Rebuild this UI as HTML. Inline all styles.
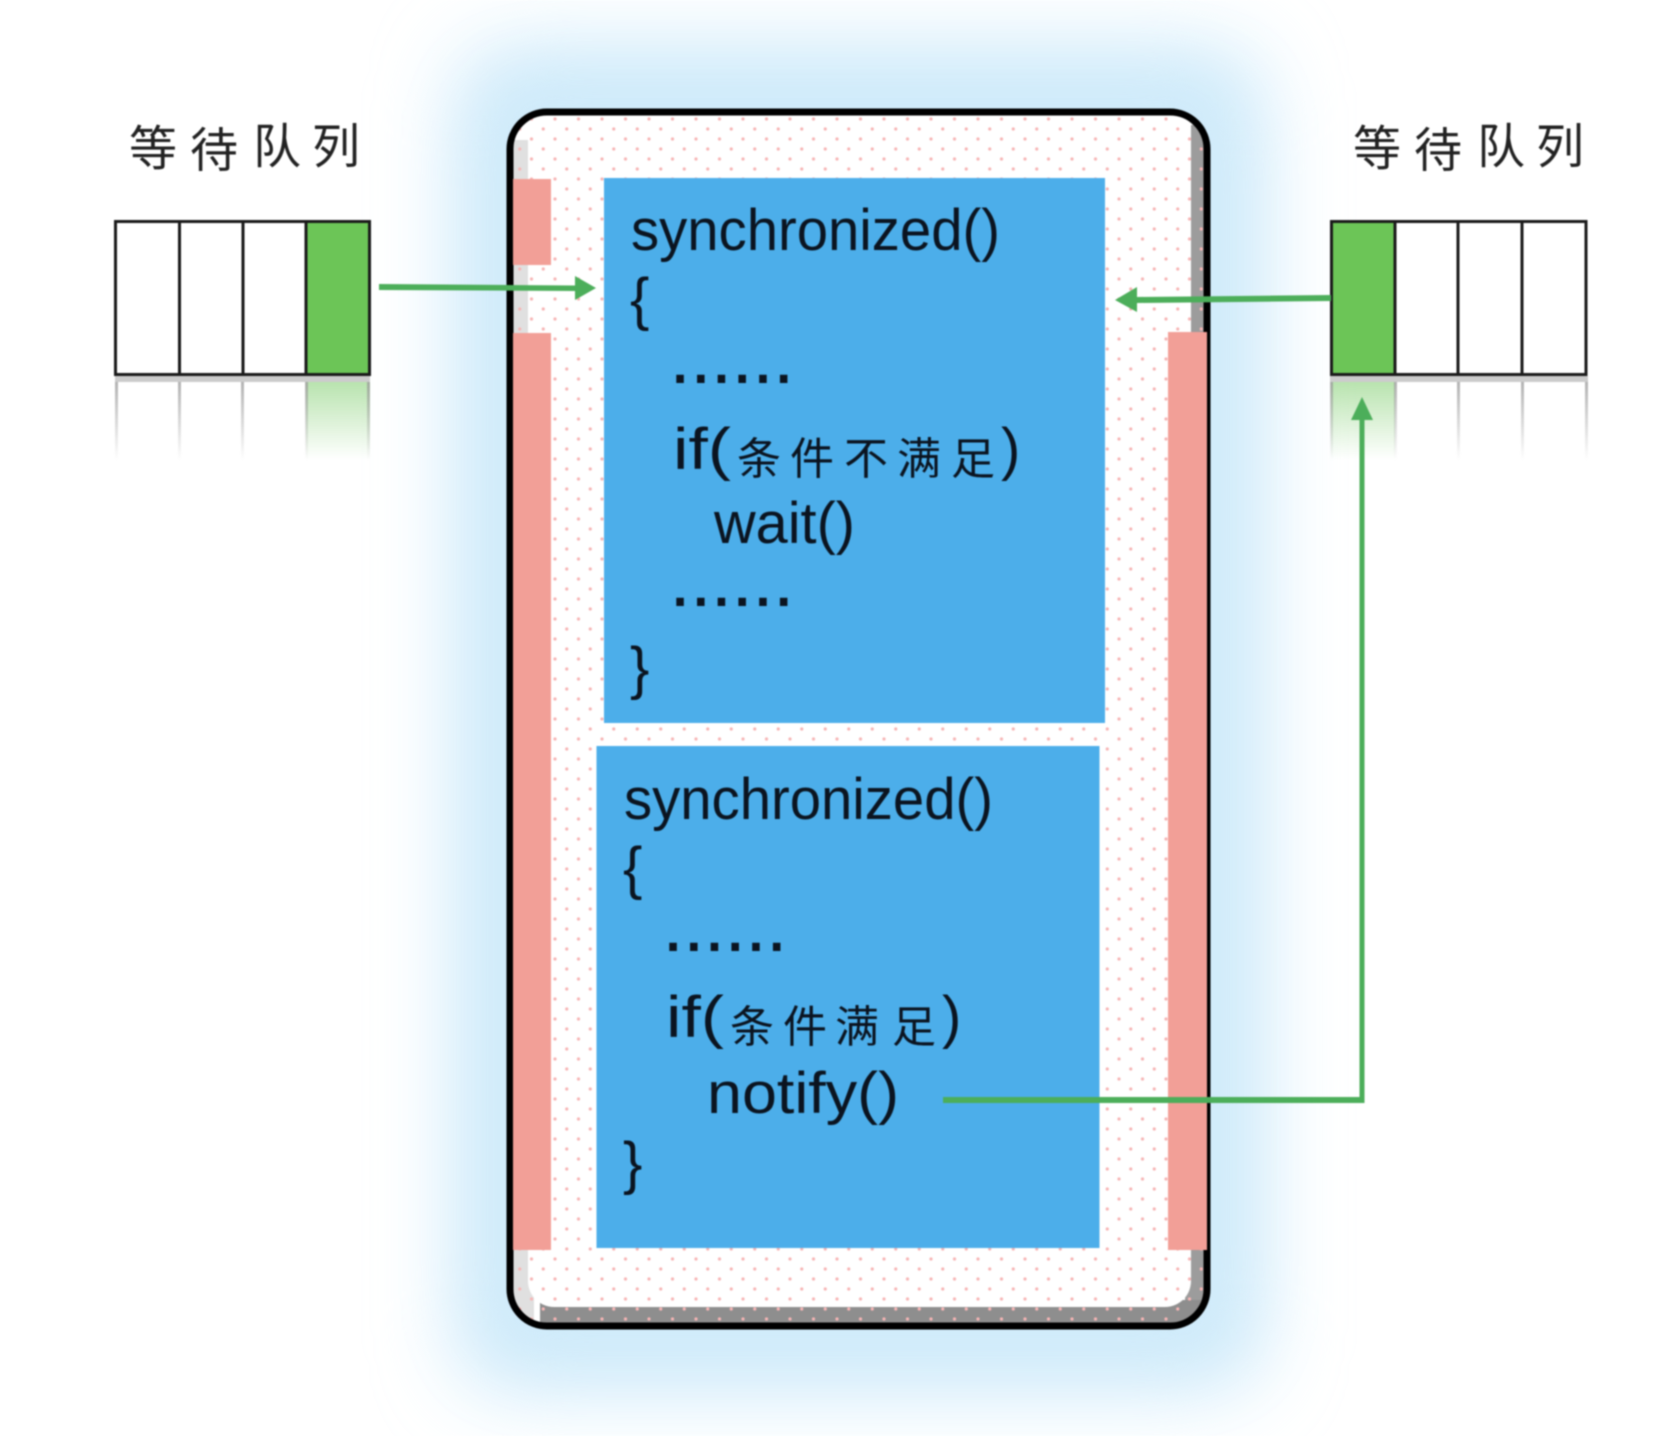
<!DOCTYPE html>
<html>
<head>
<meta charset="utf-8">
<style>
html,body{margin:0;padding:0;background:#fff;width:1674px;height:1436px;overflow:hidden}
svg{display:block;filter:blur(.8px)}
text{fill:#0b1420;font-family:"Liberation Sans","Noto Sans CJK SC",sans-serif}
.l{font-size:58px}
.d{font-size:58px;stroke:#0b1420;stroke-width:2px}
.c{font-size:44px;font-family:"Noto Sans CJK SC","WenQuanYi Zen Hei",sans-serif}
.t{font-size:48px;font-family:"Noto Sans CJK SC","WenQuanYi Zen Hei",sans-serif;fill:#222}
</style>
</head>
<body>
<svg width="1674" height="1436" viewBox="0 0 1674 1436" xmlns="http://www.w3.org/2000/svg">
<defs>
<filter id="g" x="-40%" y="-40%" width="180%" height="180%"><feGaussianBlur stdDeviation="40"/></filter>
<pattern id="dots" x="555" y="119" width="23.5" height="20" patternUnits="userSpaceOnUse">
<circle cx="0" cy="0" r="1.6" fill="#f7b5b5"/><circle cx="23.5" cy="0" r="1.6" fill="#f7b5b5"/>
<circle cx="0" cy="20" r="1.6" fill="#f7b5b5"/><circle cx="23.5" cy="20" r="1.6" fill="#f7b5b5"/>
<circle cx="11.75" cy="10" r="1.6" fill="#f7b5b5"/>
</pattern>
<linearGradient id="fg" x1="0" y1="0" x2="0" y2="1"><stop offset="0" stop-color="#999" stop-opacity=".75"/><stop offset="1" stop-color="#999" stop-opacity="0"/></linearGradient>
<linearGradient id="fgreen" x1="0" y1="0" x2="0" y2="1"><stop offset="0" stop-color="#6cc557" stop-opacity=".48"/><stop offset="1" stop-color="#6cc557" stop-opacity="0"/></linearGradient>
<clipPath id="card"><rect x="510" y="113" width="697" height="1212" rx="34"/></clipPath>
</defs>

<!-- glow -->
<rect x="457" y="48" width="804" height="1340" rx="50" fill="#cbe9fa" filter="url(#g)"/>
<rect x="485" y="85" width="750" height="1270" rx="50" fill="#d3ecfa" filter="url(#g)" opacity=".7"/>

<!-- card -->
<rect x="510" y="112" width="697" height="1214" rx="37" fill="#fff"/>
<g clip-path="url(#card)">
<rect x="510" y="140" width="24" height="1185" fill="#e0e0e0"/>
<rect x="1185" y="125" width="26" height="1200" fill="#9c9c9c"/>
<rect x="540" y="1300" width="670" height="27" fill="#8e8e8e"/>
<rect x="528" y="90" width="663" height="1217" rx="26" fill="#fff"/>
<rect x="510" y="100" width="655" height="40" fill="#fff"/>
<rect x="505" y="100" width="710" height="1230" fill="url(#dots)"/>
</g>
<rect x="510" y="112" width="697" height="1214" rx="37" fill="none" stroke="#000" stroke-width="7"/>

<!-- salmon bars -->
<rect x="513" y="179" width="38" height="86" fill="#f29f97"/>
<rect x="513" y="333" width="38" height="917" fill="#f29f97"/>
<rect x="1168" y="332" width="39" height="918" fill="#f29f97"/>

<!-- blue boxes -->
<rect x="604" y="178" width="501" height="545" fill="#4caeea"/>
<rect x="596.500" y="746" width="503" height="502" fill="#4caeea"/>

<!-- box 1 text -->
<text class="l" x="631" y="250" textLength="369" lengthAdjust="spacingAndGlyphs">synchronized()</text>
<text class="l" x="630" y="319">{</text>
<text class="d" x="672" y="382" letter-spacing="4.600">......</text>
<text class="l" x="673" y="469" textLength="58" lengthAdjust="spacingAndGlyphs">if(</text>
<text class="c" x="737" y="474">条</text>
<text class="c" x="790" y="474">件</text>
<text class="c" x="844" y="474">不</text>
<text class="c" x="897" y="474">满</text>
<text class="c" x="951" y="474">足</text>
<text class="l" x="1001" y="469">)</text>
<text class="l" x="714" y="543" textLength="141" lengthAdjust="spacingAndGlyphs">wait()</text>
<text class="d" x="672" y="605" letter-spacing="4.600">......</text>
<text class="l" x="630" y="688">}</text>

<!-- box 2 text -->
<text class="l" x="624" y="819" textLength="369" lengthAdjust="spacingAndGlyphs">synchronized()</text>
<text class="l" x="623" y="888">{</text>
<text class="d" x="665" y="950" letter-spacing="4.600">......</text>
<text class="l" x="666" y="1037" textLength="58" lengthAdjust="spacingAndGlyphs">if(</text>
<text class="c" x="730" y="1042">条</text>
<text class="c" x="783" y="1042">件</text>
<text class="c" x="835" y="1042">满</text>
<text class="c" x="892" y="1042">足</text>
<text class="l" x="942" y="1037">)</text>
<text class="l" x="707" y="1113" textLength="192" lengthAdjust="spacingAndGlyphs">notify()</text>
<text class="l" x="623" y="1183">}</text>

<!-- left queue -->
<text class="t" x="129" y="165">等</text>
<text class="t" x="190" y="167">待</text>
<text class="t" x="253" y="163">队</text>
<text class="t" x="312" y="163">列</text>
<rect x="306" y="221" width="64" height="153" fill="#6cc557"/>
<rect x="115.500" y="221.500" width="254" height="153" fill="none" stroke="#1a1a1a" stroke-width="3"/>
<path d="M179.500 221V375M243 221V375M306 221V375" stroke="#1a1a1a" stroke-width="3" fill="none"/>
<rect x="115" y="376" width="255" height="6" fill="#ccc"/>
<rect x="306" y="382" width="64" height="78" fill="url(#fgreen)"/>
<rect x="115" y="382" width="3" height="78" fill="url(#fg)"/>
<rect x="178" y="382" width="3" height="78" fill="url(#fg)"/>
<rect x="241" y="382" width="3" height="78" fill="url(#fg)"/>
<rect x="305" y="382" width="3" height="78" fill="url(#fg)"/>
<rect x="367" y="382" width="3" height="78" fill="url(#fg)"/>

<!-- right queue -->
<text class="t" x="1353" y="165">等</text>
<text class="t" x="1414" y="167">待</text>
<text class="t" x="1477" y="163">队</text>
<text class="t" x="1536" y="163">列</text>
<rect x="1331" y="221" width="64" height="153" fill="#6cc557"/>
<rect x="1331.500" y="221.500" width="254.500" height="153" fill="none" stroke="#1a1a1a" stroke-width="3"/>
<path d="M1395 221V375M1458 221V375M1522 221V375" stroke="#1a1a1a" stroke-width="3" fill="none"/>
<rect x="1330" y="376" width="258" height="6" fill="#ccc"/>
<rect x="1331" y="382" width="64" height="78" fill="url(#fgreen)"/>
<rect x="1330" y="382" width="3" height="78" fill="url(#fg)"/>
<rect x="1394" y="382" width="3" height="78" fill="url(#fg)"/>
<rect x="1457" y="382" width="3" height="78" fill="url(#fg)"/>
<rect x="1521" y="382" width="3" height="78" fill="url(#fg)"/>
<rect x="1585" y="382" width="3" height="78" fill="url(#fg)"/>

<!-- arrows -->
<g fill="#4cae5a">
<polygon points="379,284 575,285.500 575,276 596,288 575,300 575,291 379,290"/>
<polygon points="1331,295 1137,297 1137,287 1115,300 1137,312 1137,303 1331,301"/>
<path d="M943 1097H1359.500V420H1351L1362 397L1373 420H1364.500V1103H943Z"/>
</g>
</svg>
</body>
</html>
